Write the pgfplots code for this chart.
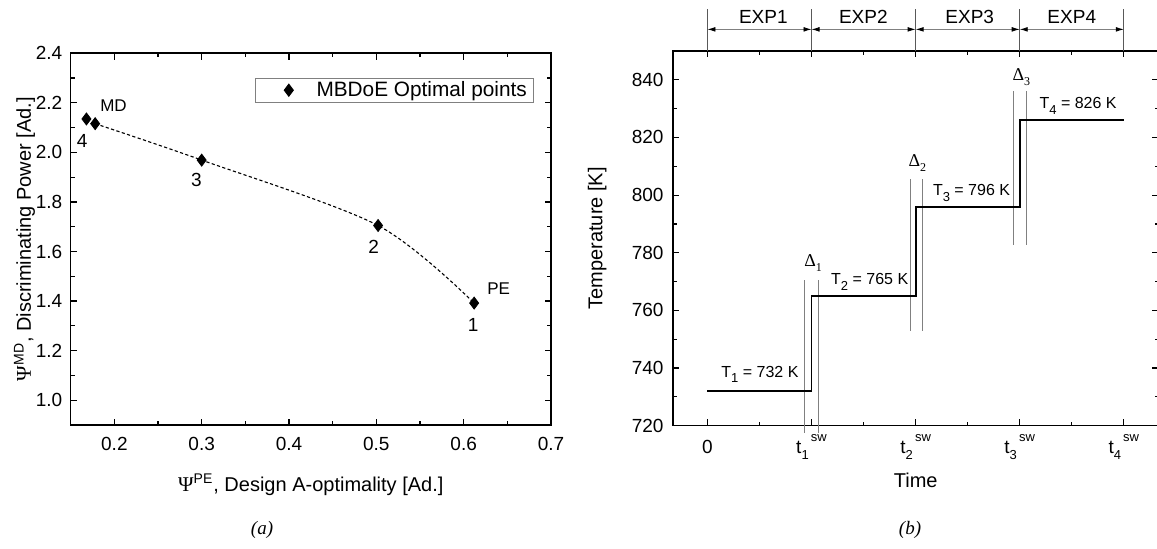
\documentclass[border=0pt]{standalone}
\usepackage{fontspec}
\setmainfont{Liberation Sans}
\newfontfamily\serif{Liberation Serif}
\usepackage{pgfplots}
\pgfplotsset{compat=1.18}
\usetikzlibrary{arrows.meta}
\newcommand{\fs}{\fontsize{9.5}{11}\selectfont}
\newcommand{\sub}[1]{\raisebox{-0.35em}{\fontsize{6.5}{7}\selectfont #1}}
\newcommand{\tsw}[1]{t\sub{#1}\raisebox{0.6em}{\fontsize{6.5}{7}\selectfont\,sw}}
\newcommand{\dl}[1]{{\serif\fontsize{9}{10}\selectfont \char"0394\raisebox{-0.3em}{\fontsize{6}{7}\selectfont #1}}}
\pgfplotsset{mylegimg/.style={legend image code/.code={\path[draw=none] (-8pt,0) -- (0.6cm+2pt,0);
    \draw[##1, only marks] plot coordinates {(0.3cm,0cm)};}}}
\begin{document}
\begin{tikzpicture}
\useasboundingbox (0,0) rectangle (578.5pt,274.5pt);
% ---------------- (a) ----------------
\begin{axis}[
  scale only axis, width=240.15pt, height=185.85pt,
  at={(35.35pt,62pt)}, anchor=south west,
  xmin=0.15, xmax=0.7, ymin=0.9, ymax=2.4,
  xtick={0.2,0.3,0.4,0.5,0.6,0.7},
  ytick={1.0,1.2,1.4,1.6,1.8,2.0,2.2,2.4},
  minor x tick num=1, minor y tick num=1,
  tick align=inside,
  major tick length=3.2pt, minor tick length=2pt,
  every tick/.style={black, line width=0.6pt},
  axis line style={line width=0.8pt},
  /pgf/number format/fixed, /pgf/number format/fixed zerofill,
  /pgf/number format/precision=1, /pgf/number format/assume math mode=true,
  tick label style={font=\fs},
  xticklabel style={anchor=base, yshift=-12.8pt, inner sep=0pt},
  yticklabel style={anchor=east, xshift=-4pt, inner sep=0pt},
  clip=false,
  label style={font=\fs},
  xlabel={{\serif\fontsize{10.5}{11}\selectfont Ψ}\textsuperscript{PE}, Design A-optimality [Ad.]},
  ylabel={{\serif\fontsize{10.5}{11}\selectfont Ψ}\textsuperscript{MD}, Discriminating Power [Ad.]},
  every axis x label/.style={at={(axis description cs:0.5,-0.161)}, anchor=center},
  every axis y label/.style={at={(axis description cs:-0.083,0.5)}, anchor=base, rotate=90, inner sep=0pt},
  legend style={at={(rel axis cs:0.9646,0.9344)}, anchor=north east, draw=gray,
    line width=0.5pt, inner xsep=0pt, inner ysep=0pt,
    font=\fontsize{10.4}{12}\selectfont, nodes={inner ysep=1.5pt, inner xsep=3.3pt}},
  legend cell align=left,
]
\addplot[black, dash pattern=on 1.6pt off 1.2pt, line width=0.55pt, smooth, forget plot]
  coordinates {(0.178,2.116) (0.30,1.969) (0.502,1.705) (0.612,1.392)};
\addplot[only marks, mark=diamond*, mark size=3pt, black, mylegimg]
  coordinates {(0.178,2.116) (0.168,2.135) (0.30,1.969) (0.502,1.705) (0.612,1.392)};
\addlegendentry{MBDoE Optimal points}
\node[font=\fontsize{8.5}{10}\selectfont] at (axis cs:0.199,2.187) {MD};
\node[font=\fontsize{8.5}{10}\selectfont] at (axis cs:0.64,1.45) {PE};
\node[font=\fs] at (axis cs:0.163,2.046) {4};
\node[font=\fs] at (axis cs:0.294,1.89) {3};
\node[font=\fs] at (axis cs:0.497,1.618) {2};
\node[font=\fs] at (axis cs:0.611,1.305) {1};
\end{axis}
% ---------------- (b) ----------------
\begin{axis}[
  scale only axis, width=242.8pt, height=187.35pt,
  at={(336.45pt,61.65pt)}, anchor=south west,
  xmin=-0.3315, xmax=4.333, ymin=720, ymax=850,
  xtick={0,1,2,3,4},
  xticklabels={0,{\tsw{1}},{\tsw{2}},{\tsw{3}},{\tsw{4}}},
  ytick={720,740,760,780,800,820,840},
  minor x tick num=1, minor y tick num=1,
  tick align=inside,
  major tick length=3.2pt, minor tick length=2pt,
  every tick/.style={black, line width=0.6pt},
  axis line style={line width=0.8pt},
  /pgf/number format/assume math mode=true,
  tick label style={font=\fs},
  xticklabel style={anchor=base, yshift=-13.8pt, inner sep=0pt},
  yticklabel style={anchor=east, xshift=-4.5pt, inner sep=0pt},
  clip=false,
  label style={font=\fs},
  xlabel={Time},
  ylabel={Temperature [K]},
  every axis x label/.style={at={(axis description cs:0.5,-0.145)}, anchor=center},
  every axis y label/.style={at={(axis description cs:-0.156,0.5)}, anchor=center, rotate=90},
]
\addplot[gray, line width=0.45pt] coordinates {(0.93,717.6) (0.93,770.6)};
\addplot[gray, line width=0.45pt] coordinates {(1.062,717.6) (1.062,770.6)};
\addplot[gray, line width=0.45pt] coordinates {(1.946,752.9) (1.946,805.6)};
\addplot[gray, line width=0.45pt] coordinates {(2.069,752.9) (2.069,805.6)};
\addplot[gray, line width=0.45pt] coordinates {(2.939,782.7) (2.939,836)};
\addplot[gray, line width=0.45pt] coordinates {(3.066,782.7) (3.066,836)};
\addplot[black, line width=0.9pt, const plot] coordinates {(0,732) (1,765) (2,796) (3,826) (4,826)};
\node[font=\fontsize{8}{9}\selectfont] at (axis cs:0.505,737.8) {T\sub{1} = 732 K};
\node[font=\fontsize{8}{9}\selectfont] at (axis cs:1.559,769.9) {T\sub{2} = 765 K};
\node[font=\fontsize{8}{9}\selectfont] at (axis cs:2.537,800.7) {T\sub{3} = 796 K};
\node[font=\fontsize{8}{9}\selectfont] at (axis cs:3.561,831) {T\sub{4} = 826 K};
\node at (axis cs:1.016,776.4) {\dl{1}};
\node at (axis cs:2.016,811.1) {\dl{2}};
\node at (axis cs:3.016,841.0) {\dl{3}};
% top experiment arrows
\draw[gray!70!black, line width=0.4pt] (axis cs:0,850) -- (axis cs:0,864.6);
\draw[gray!70!black, line width=0.4pt] (axis cs:1,850) -- (axis cs:1,864.6);
\draw[gray!70!black, line width=0.4pt] (axis cs:2,850) -- (axis cs:2,864.6);
\draw[gray!70!black, line width=0.4pt] (axis cs:3,850) -- (axis cs:3,864.6);
\draw[gray!70!black, line width=0.4pt] (axis cs:4,850) -- (axis cs:4,864.6);
\draw[gray, line width=0.4pt, {Latex[black,length=4pt,width=2.4pt]}-{Latex[black,length=4pt,width=2.4pt]}] (axis cs:0,857.5) -- (axis cs:1,857.5);
\draw[gray, line width=0.4pt, {Latex[black,length=4pt,width=2.4pt]}-{Latex[black,length=4pt,width=2.4pt]}] (axis cs:1,857.5) -- (axis cs:2,857.5);
\draw[gray, line width=0.4pt, {Latex[black,length=4pt,width=2.4pt]}-{Latex[black,length=4pt,width=2.4pt]}] (axis cs:2,857.5) -- (axis cs:3,857.5);
\draw[gray, line width=0.4pt, {Latex[black,length=4pt,width=2.4pt]}-{Latex[black,length=4pt,width=2.4pt]}] (axis cs:3,857.5) -- (axis cs:4,857.5);
\node[font=\fs] at (axis cs:0.537,861.9) {EXP1};
\node[font=\fs] at (axis cs:1.498,861.9) {EXP2};
\node[font=\fs] at (axis cs:2.52,861.9) {EXP3};
\node[font=\fs] at (axis cs:3.50,861.9) {EXP4};
\end{axis}
% captions
\node[font=\serif\itshape\fontsize{9.5}{11}\selectfont] at (131pt,9.5pt) {(a)};
\node[font=\serif\itshape\fontsize{9.5}{11}\selectfont] at (455pt,9.5pt) {(b)};
\end{tikzpicture}
\end{document}
